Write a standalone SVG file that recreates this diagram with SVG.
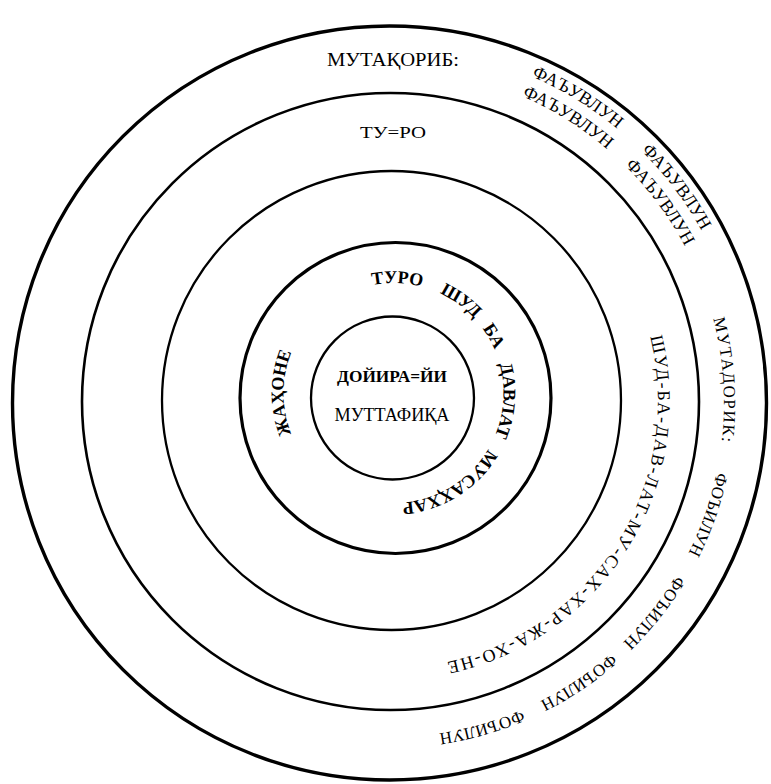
<svg xmlns="http://www.w3.org/2000/svg" width="771" height="784" viewBox="0 0 771 784">
<style>
.c{fill:none;stroke:#000}
.t{font-family:"Liberation Serif","DejaVu Serif",serif;fill:#000}
.a{font-size:17px}
.f{font-size:18px}
.b{font-size:18px}
.d{font-size:18px;font-weight:bold}
</style>
<defs>
<path id="pAo" d="M 390 47 A 356 356 0 1 1 390 759 A 356 356 0 1 1 390 47"/>
<path id="pAi" d="M 390 69 A 334 334 0 1 1 390 737 A 334 334 0 1 1 390 69"/>
<path id="pB" d="M 391 134 A 267 267 0 1 1 391 668 A 267 267 0 1 1 391 134"/>
<path id="pD" d="M 393.5 503 A 110 110 0 1 1 393.5 283 A 110 110 0 1 1 393.5 503"/>
</defs>
<rect width="771" height="784" fill="#fff"/>
<g id="connectors"/>
<g id="ring-outer">
<circle class="c" cx="389.5" cy="403" r="377" stroke-width="3.4"/>
<text class="t b" x="393" y="66" text-anchor="middle" textLength="132" lengthAdjust="spacingAndGlyphs">МУТАҚОРИБ:</text>
<text class="t f"><textPath href="#pAo" startOffset="196" text-anchor="middle">ФАЪУВЛУН</textPath></text>
<text class="t f"><textPath href="#pAo" startOffset="329" text-anchor="middle">ФАЪУВЛУН</textPath></text>
<text class="t f"><textPath href="#pAi" startOffset="186" text-anchor="middle">ФАЪУВЛУН</textPath></text>
<text class="t f"><textPath href="#pAi" startOffset="311" text-anchor="middle">ФАЪУВЛУН</textPath></text>
<text class="t a"><textPath href="#pAi" startOffset="501" text-anchor="middle" textLength="124" lengthAdjust="spacing">МУТАДОРИК:</textPath></text>
<text class="t a"><textPath href="#pAi" startOffset="637.2" text-anchor="middle">ФОЪИЛУН</textPath></text>
<text class="t a"><textPath href="#pAi" startOffset="748.5" text-anchor="middle">ФОЪИЛУН</textPath></text>
<text class="t a"><textPath href="#pAi" startOffset="850.5" text-anchor="middle">ФОЪИЛУН</textPath></text>
<text class="t a"><textPath href="#pAi" startOffset="956.6" text-anchor="middle">ФОЪИЛУН</textPath></text>
</g>
<g id="ring-2">
<circle class="c" cx="390.5" cy="401.5" r="308.5" stroke-width="2.6"/>
<text class="t a" x="393" y="138" text-anchor="middle" textLength="66" lengthAdjust="spacingAndGlyphs">ТУ=РО</text>
<text class="t b"><textPath href="#pB" startOffset="354.2" textLength="428" lengthAdjust="spacing">ШУД-БА-ДАВ-ЛАТ-МУ-САХ-ХАР-ЖА-ХО-НЕ</textPath></text>
</g>
<g id="ring-3">
<circle class="c" cx="391.5" cy="400.5" r="229.5" stroke-width="2.3"/>
</g>
<g id="ring-4">
<circle class="c" cx="395.5" cy="398" r="155.5" stroke-width="3.2"/>
<text class="t d"><textPath href="#pD" startOffset="172.8" text-anchor="middle">ЖАҲОНЕ</textPath></text>
<text class="t d"><textPath href="#pD" startOffset="348.9" text-anchor="middle">ТУРО</textPath></text>
<text class="t d"><textPath href="#pD" startOffset="414.5" text-anchor="middle">ШУД</textPath></text>
<text class="t d"><textPath href="#pD" startOffset="461" text-anchor="middle">БА</textPath></text>
<text class="t d"><textPath href="#pD" startOffset="525.1" text-anchor="middle">ДАВЛАТ</textPath></text>
<text class="t d"><textPath href="#pD" startOffset="629" text-anchor="middle">МУСАҲХАР</textPath></text>
</g>
<g id="ring-inner">
<circle class="c" cx="392.5" cy="398" r="81.5" stroke-width="2.3"/>
<text class="t" x="392" y="382" font-size="17" font-weight="bold" text-anchor="middle" textLength="110" lengthAdjust="spacingAndGlyphs">ДОЙИРА=ЙИ</text>
<text class="t" x="392" y="421" font-size="18" text-anchor="middle" textLength="115" lengthAdjust="spacingAndGlyphs">МУТТАФИҚА</text>
</g>
</svg>
